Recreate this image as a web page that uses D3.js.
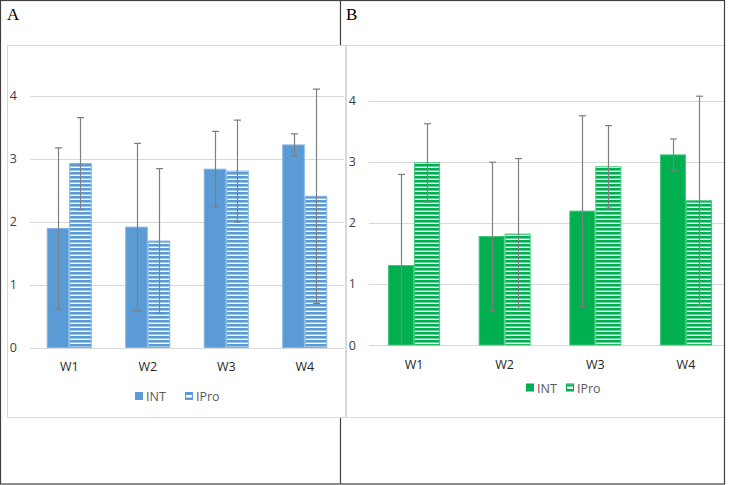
<!DOCTYPE html>
<html>
<head>
<meta charset="utf-8">
<script src="https://cdn.jsdelivr.net/npm/d3@7"></script>
<style>
  html, body { margin: 0; padding: 0; background: #fff; }
  svg { display: block; }
  text { font-family: "Open Sans", "Noto Sans", sans-serif; }
</style>
</head>
<body>
<svg id="chart" width="729" height="485"></svg>
<script>
// ---- data ----
const categories = ["W1", "W2", "W3", "W4"];
const seriesNames = ["INT", "IPro"];
const yTicks = [0, 1, 2, 3, 4];

const panelA_INT = [1.89, 1.91, 2.83, 3.215];
const panelA_INT_sd = [1.28, 1.33, 0.60, 0.175];
const panelA_IPro = [2.92, 1.69, 2.80, 2.40];
const panelA_IPro_sd = [0.73, 1.15, 0.81, 1.70];

const panelB_INT = [1.30, 1.775, 2.19, 3.11];
const panelB_INT_sd = [1.49, 1.215, 1.56, 0.26];
const panelB_IPro = [2.98, 1.815, 2.915, 2.36];
const panelB_IPro_sd = [0.64, 1.235, 0.675, 1.71];

const svg = d3.select("#chart");
const defs = svg.append("defs");

function drawPanel(cfg) {
  const g = svg.append("g");
  // chart box
  g.append("rect")
    .attr("x", cfg.box[0] + 0.5).attr("y", cfg.box[1] + 0.5)
    .attr("width", cfg.box[2]).attr("height", cfg.box[3])
    .attr("fill", "#fff").attr("stroke", "#d9d9d9").attr("stroke-width", 1);

  // pattern
  const pat = defs.append("pattern")
    .attr("id", cfg.id + "-pat")
    .attr("patternUnits", "userSpaceOnUse")
    .attr("width", 8).attr("height", 4);
  pat.append("rect").attr("width", 8).attr("height", 4).attr("fill", "#fff");
  pat.append("rect").attr("y", 0).attr("width", 8).attr("height", 2.6).attr("fill", cfg.color);

  const y = d3.scaleLinear().domain([0, 4]).range([cfg.y0, cfg.y4]);
  const x = d3.scaleBand().domain(categories).range(cfg.xRange)
    .paddingInner(cfg.pad).paddingOuter(cfg.pad / 2);
  const xs = d3.scaleBand().domain(seriesNames).range([0, x.bandwidth()]).padding(0);

  // gridlines
  g.append("g").selectAll("line").data(yTicks).join("line")
    .attr("x1", cfg.gridX[0]).attr("x2", cfg.gridX[1])
    .attr("y1", d => Math.round(y(d)) + 0.5).attr("y2", d => Math.round(y(d)) + 0.5)
    .attr("stroke", "#d9d9d9").attr("stroke-width", 1);

  // y tick labels
  g.append("g").selectAll("text").data(yTicks).join("text")
    .attr("x", cfg.tickX).attr("y", d => y(d) + 4.5)
    .attr("text-anchor", "end")
    .attr("font-size", 12.5).attr("fill", "#404040")
    .text(d => d);

  const series = [
    { name: "INT", vals: cfg.INT, sd: cfg.INT_sd, fill: cfg.color, stroke: cfg.strokeColor },
    { name: "IPro", vals: cfg.IPro, sd: cfg.IPro_sd, fill: `url(#${cfg.id}-pat)`, stroke: cfg.strokeColor }
  ];

  // bars
  series.forEach(s => {
    g.append("g").selectAll("rect").data(categories).join("rect")
      .attr("x", (c) => x(c) + xs(s.name) + 0.5)
      .attr("y", (c, i) => y(s.vals[i]))
      .attr("width", xs.bandwidth() - 1)
      .attr("height", (c, i) => y(0) - y(s.vals[i]))
      .attr("fill", s.fill)
      .attr("stroke", s.stroke).attr("stroke-width", 1);
  });

  // clip for error bars (nothing below the baseline)
  defs.append("clipPath").attr("id", cfg.id + "-clip")
    .append("rect").attr("x", cfg.box[0]).attr("y", cfg.box[1])
    .attr("width", 800).attr("height", cfg.y0 - cfg.box[1]);

  const eg = g.append("g").attr("clip-path", `url(#${cfg.id}-clip)`);
  series.forEach(s => {
    categories.forEach((c, i) => {
      const cx = Math.round(x(c) + xs(s.name) + xs.bandwidth() / 2) + 0.5;
      const hi = y(s.vals[i] + s.sd[i]);
      const lo = y(s.vals[i] - s.sd[i]);
      eg.append("line").attr("x1", cx).attr("x2", cx).attr("y1", hi).attr("y2", lo)
        .attr("stroke", "#7f7f7f").attr("stroke-width", 1.2);
      [hi, lo].forEach(yy => {
        eg.append("line").attr("x1", cx - 3.5).attr("x2", cx + 3.5).attr("y1", yy).attr("y2", yy)
          .attr("stroke", "#7f7f7f").attr("stroke-width", 1.2);
      });
    });
  });

  // x labels
  g.append("g").selectAll("text").data(categories).join("text")
    .attr("x", c => x(c) + x.bandwidth() / 2).attr("y", cfg.xLabelY)
    .attr("text-anchor", "middle")
    .attr("font-size", 12.5).attr("fill", "#262626")
    .text(c => c);

  // legend
  const lg = g.append("g");
  cfg.legendX.forEach((lx, i) => {
    const s = series[i];
    lg.append("rect")
      .attr("x", lx + 0.5).attr("y", cfg.legendY - 8.5)
      .attr("width", 7).attr("height", 7)
      .attr("fill", i === 0 ? cfg.color : "#fff")
      .attr("stroke", cfg.color).attr("stroke-width", 1);
    if (i === 1) {
      lg.append("rect").attr("x", lx + 1).attr("y", cfg.legendY - 8).attr("width", 6).attr("height", 2).attr("fill", cfg.color);
      lg.append("rect").attr("x", lx + 1).attr("y", cfg.legendY - 3.5).attr("width", 6).attr("height", 2).attr("fill", cfg.color);
    }
    lg.append("text")
      .attr("x", lx + 11).attr("y", cfg.legendY)
      .attr("font-size", 12.5).attr("fill", "#595959")
      .text(s.name);
  });

  // panel letter
  svg.append("text")
    .attr("x", cfg.letterX).attr("y", 20)
    .attr("font-family", "'Liberation Serif', 'DejaVu Serif', serif")
    .style("font-family", "'Liberation Serif', serif")
    .attr("font-size", 17).attr("fill", "#000")
    .text(cfg.letter);
}

drawPanel({
  id: "A", letter: "A", letterX: 7,
  box: [7, 45, 338, 372],
  color: "#5b9bd5", strokeColor: "#80b3e3",
  y0: 347.5, y4: 95.5,
  xRange: [30, 344], pad: 0.427,
  gridX: [30, 344], tickX: 17,
  xLabelY: 371, legendX: [135, 185], legendY: 401,
  INT: panelA_INT, INT_sd: panelA_INT_sd, IPro: panelA_IPro, IPro_sd: panelA_IPro_sd
});

drawPanel({
  id: "B", letter: "B", letterX: 346,
  box: [346, 45, 400, 372],
  color: "#00b050", strokeColor: "#3fc977",
  y0: 345, y4: 100.5,
  xRange: [368.7, 731.3], pad: 0.426,
  gridX: [369, 731], tickX: 356,
  xLabelY: 368.5, legendX: [526, 566], legendY: 392.5,
  INT: panelB_INT, INT_sd: panelB_INT_sd, IPro: panelB_IPro, IPro_sd: panelB_IPro_sd
});

// outer frame (drawn on top; everything right of it is blank)
svg.append("rect").attr("x", 724.5).attr("y", 0).attr("width", 10).attr("height", 485).attr("fill", "#fff");
svg.append("rect").attr("x", 0.5).attr("y", 0.5).attr("width", 724).attr("height", 483.5)
  .attr("fill", "none").attr("stroke", "#404040").attr("stroke-width", 1.2);
svg.append("line").attr("x1", 340.5).attr("x2", 340.5).attr("y1", 0).attr("y2", 45)
  .attr("stroke", "#404040").attr("stroke-width", 1.2);
svg.append("line").attr("x1", 340.5).attr("x2", 340.5).attr("y1", 418).attr("y2", 484)
  .attr("stroke", "#404040").attr("stroke-width", 1.2);
</script>
</body>
</html>
